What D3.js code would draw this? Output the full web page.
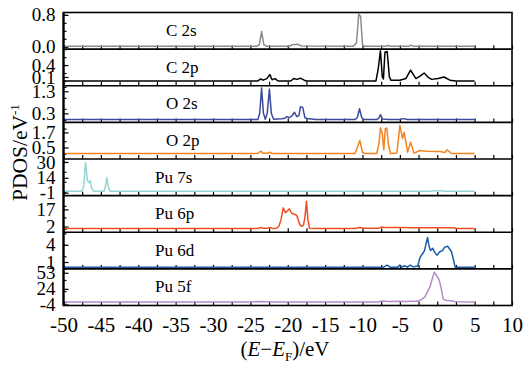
<!DOCTYPE html>
<html lang="en">

<head>
	<meta charset="UTF-8">
	<title>PDOS</title>
	<script src="https://d3js.org/d3.v7.min.js"></script>
	<style>
		body { margin: 0; background: #fff; }
		svg, svg text { font-family: "Liberation Serif", "Times New Roman", serif; }
		.curve { fill: none; stroke-width: 1.5px; stroke-linejoin: round; }
		.frame { fill: none; stroke: #000; stroke-width: 1.6px; }
		.tick line { stroke: #000; stroke-width: 1.2px; }
	</style>
</head>

<body>
	<script>
		const width = 525;
		const height = 368;

		// panels, top to bottom
		const names = ['C 2s', 'C 2p', 'O 2s', 'O 2p', 'Pu 7s', 'Pu 6p', 'Pu 6d', 'Pu 5f'];
		const colors = ['#8c8c8c', '#000000', '#3c4a9e', '#f5841f', '#93d5d3', '#ef4f23', '#1a5aa8', '#b48cc8'];
		const yDomains = [[-0.06, 0.86], [-0.12, 0.8], [-0.11, 1.55], [-0.42, 2.5], [-4, 33], [-3, 29], [-0.2, 6.2], [-6, 60]];
		const yTickLabels = [[0.8, 0.0], [0.4, 0.1], [1.3, 0.3], [1.7, 0.5], [30, 14, -1], [17, 2], [4, 1], [53, 24, -4]];
		const xTicks = [-50, -45, -40, -35, -30, -25, -20, -15, -10, -5, 0, 5, 10];

		// [E - EF (eV), PDOS]
		const c2s = [[-50, 0.01], [-24.2, 0.01], [-23.8, 0.05], [-23.5, 0.38], [-23.2, 0.05], [-22.8, 0.01], [-19.8, 0.01], [-19.4, 0.05], [-18.6, 0.06], [-18.2, 0.02], [-11.2, 0.01], [-10.8, 0.1], [-10.5, 0.82], [-10.25, 0.76], [-10.0, 0.05], [-9.7, 0.01], [-7.0, 0.01], [-6.6, 0.03], [-6.2, 0.01], [-3.8, 0.01], [-3.5, 0.04], [-3.2, 0.01], [5, 0.01]];
		const c2p = [[-50, 0], [-24, 0], [-23.6, 0.05], [-23.3, 0.02], [-22.8, 0.06], [-22.4, 0.16], [-22.1, 0.03], [-21.7, 0.06], [-21.3, 0], [-19.6, 0], [-19.2, 0.06], [-18.8, 0.04], [-18.3, 0.07], [-17.8, 0.02], [-17.5, 0], [-8.2, 0], [-7.9, 0.3], [-7.6, 0.76], [-7.35, 0.1], [-7.2, 0.05], [-7.0, 0.72], [-6.7, 0.74], [-6.4, 0.1], [-6.2, 0.02], [-5.0, 0.02], [-4.2, 0.06], [-3.57, 0.27], [-2.85, 0.06], [-2.3, 0.12], [-1.75, 0.2], [-1.2, 0.09], [-0.75, 0.04], [0.13, 0.06], [0.9, 0.1], [1.7, 0.02], [2.5, 0], [5, 0]];
		const o2s = [[-50, 0.02], [-24, 0.02], [-23.75, 0.3], [-23.5, 1.45], [-23.25, 0.3], [-23.0, 0.03], [-22.75, 0.3], [-22.45, 1.4], [-22.2, 0.3], [-21.9, 0.03], [-20.8, 0.05], [-20.4, 0.08], [-20.1, 0.15], [-19.8, 0.1], [-19.4, 0.2], [-19.1, 0.35], [-18.8, 0.15], [-18.5, 0.2], [-18.3, 0.6], [-18.0, 0.57], [-17.7, 0.1], [-17.2, 0.05], [-16.2, 0.02], [-11.0, 0.02], [-10.7, 0.1], [-10.4, 0.51], [-10.1, 0.1], [-9.8, 0.02], [-8.1, 0.02], [-7.8, 0.08], [-7.6, 0.24], [-7.3, 0.04], [-6.5, 0.02], [-5.0, 0.02], [-4.5, 0.06], [-4.0, 0.02], [5, 0.02]];
		const o2p = [[-50, 0.02], [-24, 0.02], [-23.6, 0.2], [-23.3, 0.03], [-22.7, 0.03], [-22.4, 0.12], [-22.1, 0.02], [-11.0, 0.02], [-10.7, 0.5], [-10.35, 1.06], [-10.0, 0.1], [-9.7, 0.02], [-8.1, 0.02], [-7.8, 0.8], [-7.6, 2.07], [-7.35, 1.6], [-7.15, 0.3], [-6.95, 2.0], [-6.75, 2.05], [-6.5, 0.6], [-6.25, 0.02], [-5.4, 0.05], [-5.0, 2.26], [-4.64, 1.2], [-4.43, 1.72], [-3.97, 0.12], [-3.57, 0.92], [-3.1, 0.05], [-2.3, 0.26], [-1.43, 0.2], [-0.1, 0.18], [0.35, 0.18], [1.02, 0.1], [1.33, 0.32], [1.9, 0.02], [5, 0.02]];
		const pu7s = [[-50, 0.3], [-47.6, 0.3], [-47.3, 5], [-47.05, 29.7], [-46.8, 11], [-46.6, 9], [-46.4, 11], [-46.25, 4], [-46.0, 0.5], [-44.6, 0.5], [-44.4, 5], [-44.2, 14], [-44.0, 5], [-43.8, 0.5], [-1.0, 0.3], [-0.5, 0.9], [0.5, 0.9], [1.0, 0.3], [5, 0.3]];
		const pu6p = [[-50, 0.3], [-24, 0.3], [-23.6, 1.2], [-23.3, 0.4], [-22.8, 0.4], [-22.4, 1.2], [-22.0, 0.3], [-21.5, 0.5], [-21.2, 2], [-20.9, 8], [-20.6, 18.3], [-20.3, 14], [-20.0, 16], [-19.8, 17.4], [-19.5, 14], [-19.3, 13.1], [-19.0, 12.5], [-18.8, 11.7], [-18.6, 8], [-18.4, 4], [-18.2, 2.2], [-17.9, 3], [-17.7, 10], [-17.5, 24], [-17.3, 8], [-17.1, 0.5], [-16.5, 0.3], [-11.0, 0.3], [-10.4, 1.2], [-9.8, 0.5], [-7.8, 0.6], [-7.5, 1.5], [-7.0, 1.2], [-5.0, 1.2], [-3.0, 1.0], [0, 1.0], [2.2, 1.0], [2.5, 0.3], [5, 0.3]];
		const pu6d = [[-50, 0.1], [-7.2, 0.1], [-6.7, 0.45], [-6.3, 0.1], [-5.3, 0.1], [-5.0, 0.45], [-4.7, 0.1], [-4.4, 0.35], [-4.0, 0.1], [-3.6, 0.45], [-3.2, 0.15], [-2.6, 0.3], [-2.3, 1.8], [-2.0, 2.4], [-1.7, 3.0], [-1.5, 4.2], [-1.3, 5.3], [-1.1, 3.8], [-0.9, 3.0], [-0.6, 3.4], [-0.3, 2.6], [-0.05, 2.2], [0.35, 2.8], [0.7, 3.0], [1.0, 3.6], [1.4, 3.75], [1.9, 2.8], [2.15, 1.5], [2.4, 0.1], [5, 0.1]];
		const pu5f = [[-50, 0.5], [-25, 0.5], [-23.5, 1.2], [-22, 0.5], [-8, 0.5], [-7.3, 2], [-6.5, 1], [-5.0, 1.8], [-4.2, 1], [-3.5, 1.8], [-2.8, 1.5], [-2.3, 3], [-1.65, 9.6], [-1.0, 27], [-0.4, 54], [-0.1, 48], [0.26, 40], [0.5, 27], [0.8, 5], [1.25, 3], [1.9, 2.6], [2.4, 0.8], [5, 0.5]];
		const series = [c2s, c2p, o2s, o2p, pu7s, pu6p, pu6d, pu5f];

		const plotLeft = 63.5, plotRight = 512, plotTop = 12.5, plotBottom = 305.5;
		const panelH = (plotBottom - plotTop) / names.length;
		const serif = '"Liberation Serif", "Times New Roman", serif';

		const svg = d3.select("body").append("svg")
			.attr("width", width)
			.attr("height", height);

		const x = d3.scaleLinear().domain([-50, 10]).range([plotLeft, plotRight]);

		names.forEach((name, i) => {
			const y0 = plotTop + i * panelH;
			const y1 = y0 + panelH;
			const y = d3.scaleLinear().domain(yDomains[i]).range([y1, y0]);
			const g = svg.append("g");

			// minor + major ticks on the left, inward
			g.append("g")
				.attr("transform", `translate(${plotLeft},0)`)
				.call(d3.axisLeft(y).tickValues(y.ticks(4)).tickSize(-3).tickFormat(""))
				.call(a => a.select(".domain").remove());
			g.append("g")
				.attr("transform", `translate(${plotLeft},0)`)
				.call(d3.axisLeft(y).tickValues(yTickLabels[i]).tickSize(-5).tickPadding(8)
					.tickFormat(d => (i < 4 ? d.toFixed(1) : String(d))))
				.call(a => a.select(".domain").remove())
				.call(a => a.selectAll("text").attr("font-size", 19).style("font-family", serif).attr("fill", "#000"));

			// x ticks on each panel bottom, inward
			g.append("g")
				.attr("transform", `translate(0,${y1})`)
				.call(d3.axisBottom(x).tickValues(d3.range(-50, 10.01, 2.5)).tickSize(-4).tickFormat(""))
				.call(a => a.select(".domain").remove());

			g.append("path")
				.datum(series[i])
				.attr("class", "curve")
				.attr("stroke", colors[i])
				.attr("d", d3.line().x(d => x(d[0])).y(d => y(d[1])));

			g.append("text")
				.attr("x", name.startsWith("Pu") ? 155 : 166)
				.attr("y", y0 + 23.5)
				.attr("font-size", 17)
				.text(name);

			if (i > 0) {
				svg.append("line")
					.attr("x1", plotLeft).attr("x2", plotRight)
					.attr("y1", y0).attr("y2", y0)
					.attr("stroke", "#000").attr("stroke-width", 1.6);
			}
		});

		// bottom tick labels
		svg.append("g")
			.attr("transform", `translate(0,${plotBottom})`)
			.call(d3.axisBottom(x).tickValues(xTicks).tickSize(0).tickPadding(12).tickFormat(d => String(d)))
			.call(a => a.select(".domain").remove())
			.call(a => a.selectAll("text").attr("font-size", 21).style("font-family", serif).attr("fill", "#000"));

		svg.append("rect")
			.attr("class", "frame")
			.attr("x", plotLeft).attr("y", plotTop)
			.attr("width", plotRight - plotLeft).attr("height", plotBottom - plotTop);
		svg.append("line")
			.attr("x1", plotLeft).attr("x2", plotLeft).attr("y1", plotTop).attr("y2", plotBottom)
			.attr("stroke", "#000").attr("stroke-width", 2.2);

		// axis titles
		const yt = svg.append("text")
			.attr("transform", "translate(27,201) rotate(-90)")
			.attr("font-size", 21.5);
		yt.append("tspan").text("PDOS/eV");
		yt.append("tspan").attr("font-size", 13).attr("dy", -8).text("-1");

		const xt = svg.append("text")
			.attr("x", 285).attr("y", 356)
			.attr("text-anchor", "middle")
			.attr("font-size", 21);
		xt.append("tspan").text("(");
		xt.append("tspan").attr("font-style", "italic").text("E");
		xt.append("tspan").text("\u2212");
		xt.append("tspan").attr("font-style", "italic").text("E");
		xt.append("tspan").attr("font-size", 13).attr("dy", 5).text("F");
		xt.append("tspan").attr("dy", -5).text(")/eV");
	</script>
</body>

</html>
